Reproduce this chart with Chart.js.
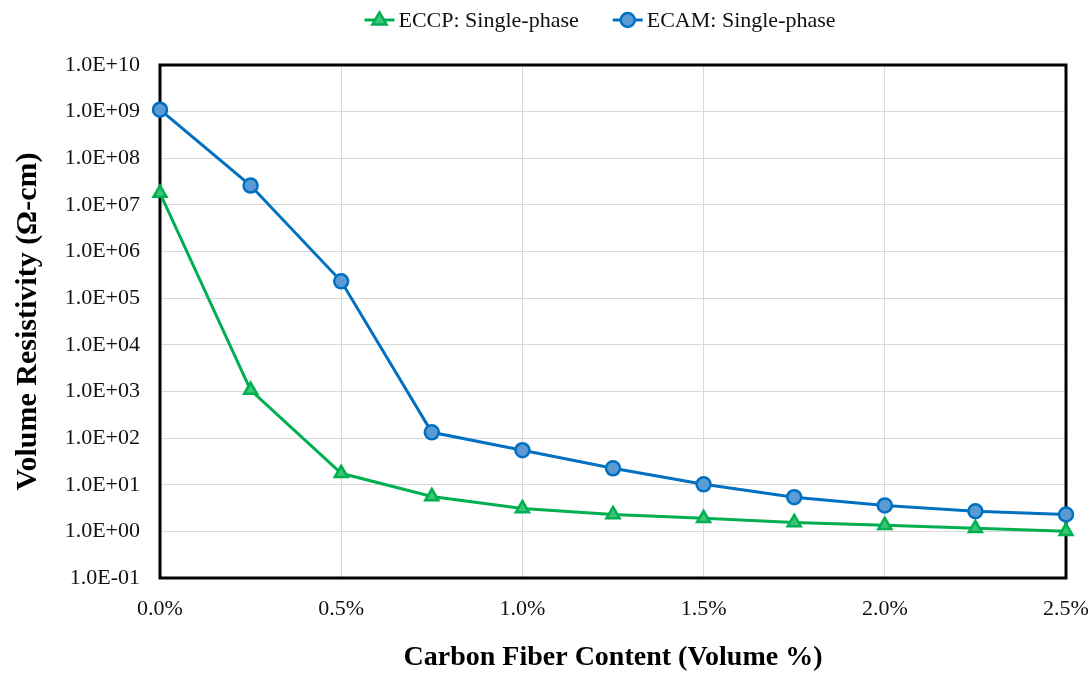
<!DOCTYPE html>
<html>
<head>
<meta charset="utf-8">
<script src="https://cdn.jsdelivr.net/npm/chart.js@4"></script>
<style>
  html, body { margin: 0; padding: 0; background: #fff; }
  canvas { display: block; }
</style>
</head>
<body>
<canvas id="c" width="1090" height="675"></canvas>
<script>
// fiber volume fraction (%) and measured resistivity (ohm-cm)
const fiberContent = [0, 0.25, 0.5, 0.75, 1.0, 1.25, 1.5, 1.75, 2.0, 2.25, 2.5];
const eccpResistivity = [1.8e7, 1.07e3, 17.6, 5.6, 3.1, 2.3, 1.9, 1.55, 1.35, 1.16, 1.0];
const ecamResistivity = [1.1e9, 2.6e7, 2.3e5, 133, 55, 22.5, 10.2, 5.4, 3.6, 2.7, 2.3];
const seriesNames = ['ECCP: Single-phase', 'ECAM: Single-phase'];
const decadeTicks = [-1, 0, 1, 2, 3, 4, 5, 6, 7, 8, 9, 10];

const SERIF = '"Liberation Serif", "Times New Roman", serif';

function sciLabel(v) {
  const e = Math.round(Math.log10(v));
  return '1.0E' + (e < 0 ? '-' : '+') + String(Math.abs(e)).padStart(2, '0');
}

const pts = vals => fiberContent.map((x, i) => ({ x, y: vals[i] }));

// black box round the plot area, under the markers
const frame = {
  id: 'frame',
  beforeDatasetsDraw(chart) {
    const { ctx, chartArea: a } = chart;
    ctx.save();
    ctx.strokeStyle = '#000';
    ctx.lineWidth = 3;
    ctx.strokeRect(a.left, a.top, a.right - a.left, a.bottom - a.top);
    ctx.restore();
  }
};

// legend with a line stroke through each marker
const lineLegend = {
  id: 'lineLegend',
  afterDraw(chart) {
    const { ctx, chartArea: a } = chart;
    ctx.save();
    ctx.font = '22px ' + SERIF;
    ctx.textBaseline = 'middle';
    const sw = 30, gap = 4, between = 34;
    const items = chart.data.datasets.map(ds => ({ ds, w: sw + gap + ctx.measureText(ds.label).width }));
    const total = items.reduce((s, it) => s + it.w, 0) + between * (items.length - 1);
    let x = (a.left + a.right) / 2 - total / 2 - 13;
    const y = 20;
    items.forEach(({ ds, w }) => {
      const cx = x + sw / 2, r = ds.pointRadius;
      ctx.strokeStyle = ds.borderColor;
      ctx.lineWidth = 3;
      ctx.beginPath();
      ctx.moveTo(x, y);
      ctx.lineTo(x + sw, y);
      ctx.stroke();
      ctx.fillStyle = ds.pointBackgroundColor;
      ctx.strokeStyle = ds.pointBorderColor;
      ctx.lineWidth = ds.pointBorderWidth;
      ctx.beginPath();
      if (ds.pointStyle === 'circle') {
        ctx.arc(cx, y, r, 0, Math.PI * 2);
      } else {
        ctx.moveTo(cx, y - r);
        ctx.lineTo(cx + r * 0.95, y + r * 0.6);
        ctx.lineTo(cx - r * 0.95, y + r * 0.6);
        ctx.closePath();
      }
      ctx.fill();
      ctx.stroke();
      ctx.fillStyle = '#111';
      ctx.fillText(ds.label, x + sw + gap, y + 1);
      x += w + between;
    });
    ctx.restore();
  }
};

new Chart(document.getElementById('c'), {
  type: 'line',
  data: {
    datasets: [
      {
        label: seriesNames[0],
        data: pts(eccpResistivity),
        borderColor: '#00B050',
        borderWidth: 3,
        pointStyle: 'triangle',
        pointRadius: 7.5,
        pointBackgroundColor: '#3CC477',
        pointBorderColor: '#00B050',
        pointBorderWidth: 2.5,
        tension: 0
      },
      {
        label: seriesNames[1],
        data: pts(ecamResistivity),
        borderColor: '#0070C0',
        borderWidth: 3,
        pointStyle: 'circle',
        pointRadius: 7,
        pointBackgroundColor: '#5B9BD5',
        pointBorderColor: '#0070C0',
        pointBorderWidth: 2.5,
        tension: 0
      }
    ]
  },
  options: {
    responsive: false,
    animation: false,
    clip: false,
    layout: { padding: { top: 65, right: 24, left: 0, bottom: 0 } },
    plugins: {
      legend: { display: false },
      tooltip: { enabled: false }
    },
    scales: {
      x: {
        type: 'linear',
        min: 0,
        max: 2.5,
        border: { display: false },
        grid: { color: '#d9d9d9', lineWidth: 1, drawTicks: false },
        ticks: {
          stepSize: 0.5,
          padding: 18,
          color: '#111',
          font: { family: SERIF, size: 22 },
          callback: v => v.toFixed(1) + '%'
        },
        title: {
          display: true,
          text: 'Carbon Fiber Content (Volume %)',
          color: '#000',
          font: { family: SERIF, size: 28, weight: 'bold' },
          padding: { top: 29, bottom: 0 }
        },
        afterFit: s => {
          s.height = 97;
          s.paddingLeft = 0;
          s.paddingRight = 0;
        }
      },
      y: {
        type: 'logarithmic',
        min: 0.1,
        max: 1e10,
        border: { display: false },
        grid: { color: '#d9d9d9', lineWidth: 1, drawTicks: false },
        afterBuildTicks: s => { s.ticks = decadeTicks.map(e => ({ value: Math.pow(10, e) })); },
        ticks: {
          padding: 20,
          color: '#111',
          font: { family: SERIF, size: 22 },
          callback: v => sciLabel(v)
        },
        title: {
          display: true,
          text: 'Volume Resistivity (Ω-cm)',
          color: '#000',
          font: { family: SERIF, size: 30, weight: 'bold' },
          padding: { top: 10, bottom: 2 }
        },
        afterFit: s => { s.width = 160; }
      }
    }
  },
  plugins: [frame, lineLegend]
});
</script>
</body>
</html>
